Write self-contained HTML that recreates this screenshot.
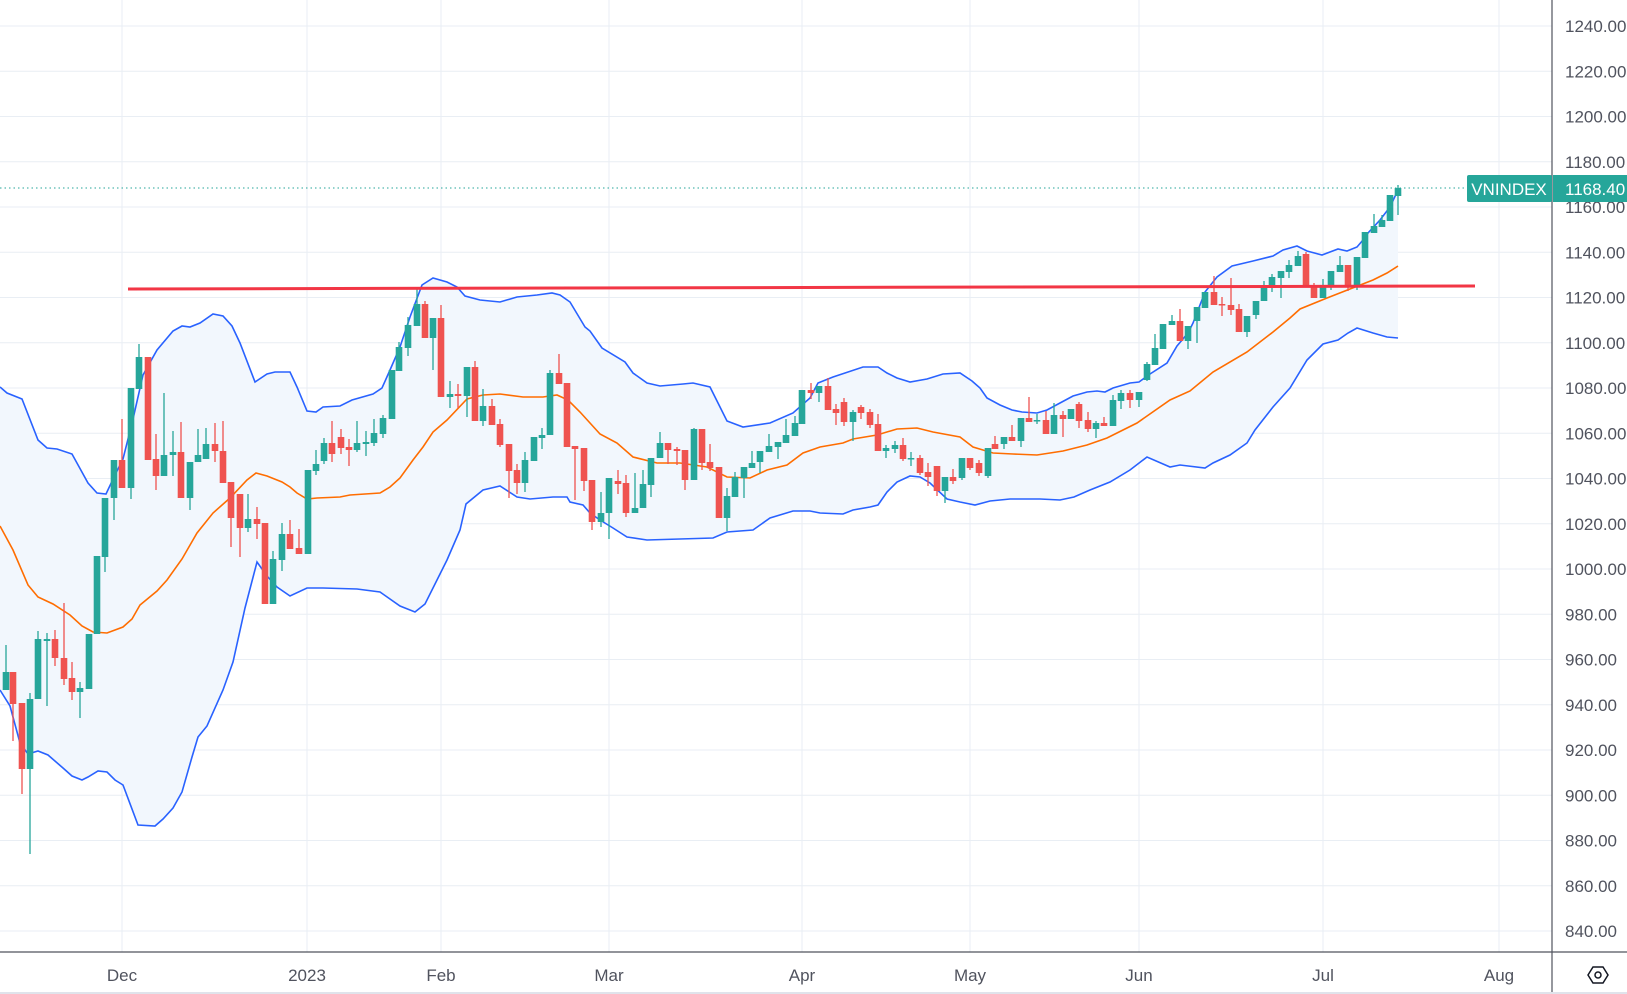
<!DOCTYPE html>
<html><head><meta charset="utf-8"><style>
html,body{margin:0;padding:0;background:#fff;}
svg{display:block;font-family:"Liberation Sans",sans-serif;}
</style></head><body>
<svg id="c" width="1627" height="994" xmlns="http://www.w3.org/2000/svg"></svg>
<script>
const NS="http://www.w3.org/2000/svg";
const svg=document.getElementById('c');
function el(t,a,txt){const e=document.createElementNS(NS,t);for(const k in a)e.setAttribute(k,a[k]);if(txt!=null)e.textContent=txt;svg.appendChild(e);return e;}
const Y=v=>26+(1240-v)*2.2625;
// grid
for(let v=840;v<=1240;v+=20){const y=Y(v);el('line',{x1:0,x2:1552,y1:y,y2:y,stroke:'#e9eef4','stroke-width':1});}
const months=[[122,'Dec'],[307,'2023'],[441,'Feb'],[609,'Mar'],[802,'Apr'],[970,'May'],[1139,'Jun'],[1323,'Jul'],[1499,'Aug']];
months.forEach(m=>el('line',{x1:m[0],x2:m[0],y1:0,y2:952,stroke:'#e9eef4','stroke-width':1}));
const up=[[0,387],[7,393],[22,399],[38,440],[47,448],[57,449],[72,454],[88,483],[97,493],[106,494],[115,475],[123,459],[133,419],[143,375],[157,350],[173,331],[182,326],[190,327],[200,323],[213,314],[223,316],[232,326],[240,343],[255,382],[267,374],[275,372],[290,372],[297,387],[307,411],[316,412],[323,407],[340,406],[352,400],[373,394],[382,388],[390,370],[400,347],[410,317],[422,285],[433,278],[447,282],[457,287],[465,296],[480,300],[500,302],[517,297],[537,295],[552,293],[560,295],[570,302],[585,327],[590,331],[602,348],[625,362],[633,373],[647,383],[660,386],[683,384],[693,383],[710,387],[727,421],[743,427],[770,423],[793,413],[810,398],[818,383],[833,377],[863,367],[878,367],[887,373],[897,378],[910,382],[927,379],[943,374],[960,373],[972,381],[980,388],[987,398],[1000,405],[1012,410],[1022,412],[1037,413],[1047,410],[1060,403],[1073,396],[1087,392],[1097,391],[1105,392],[1113,388],[1130,383],[1139,382],[1150,374],[1167,363],[1177,346],[1188,333],[1193,323],[1205,292],[1217,277],[1232,266],[1253,261],[1273,256],[1283,250],[1297,246],[1307,251],[1322,255],[1338,249],[1347,251],[1357,247],[1363,240],[1368,233],[1380,220],[1390,207],[1398,190]];
const lo=[[0,690],[10,706],[20,743],[28,754],[38,751],[48,755],[63,768],[72,776],[82,780],[88,777],[98,771],[107,772],[115,780],[123,785],[138,825],[155,826],[163,819],[173,808],[182,792],[192,757],[198,737],[207,726],[223,690],[233,662],[245,608],[257,562],[267,576],[277,587],[290,596],[307,588],[323,588],[357,589],[380,592],[400,606],[415,612],[425,604],[447,560],[460,530],[466,504],[483,490],[500,486],[517,497],[530,499],[553,497],[567,497],[570,502],[583,505],[590,513],[600,520],[613,528],[627,537],[647,540],[680,539],[713,538],[727,532],[753,530],[770,518],[793,511],[810,511],[820,513],[843,514],[853,510],[870,507],[878,505],[887,492],[897,482],[910,476],[920,477],[930,483],[947,499],[960,502],[975,505],[990,501],[1010,499],[1040,499],[1060,500],[1074,497],[1090,490],[1110,482],[1130,470],[1147,457],[1170,467],[1180,465],[1205,468],[1213,463],[1230,455],[1247,443],[1255,430],[1273,407],[1290,388],[1307,360],[1323,344],[1338,340],[1348,333],[1357,328],[1373,333],[1387,337],[1398,338]];
const ma=[[0,526],[13,550],[28,585],[38,597],[53,604],[70,615],[82,626],[93,632],[107,633],[115,630],[123,627],[132,619],[140,605],[157,591],[167,580],[182,559],[197,533],[213,513],[230,498],[247,480],[256,473],[267,476],[282,482],[290,487],[297,493],[307,499],[317,498],[340,497],[350,495],[380,493],[390,487],[400,478],[413,460],[423,447],[433,432],[447,420],[467,399],[483,395],[500,394],[523,397],[543,397],[557,395],[568,400],[580,412],[600,434],[617,443],[633,457],[657,463],[680,463],[707,467],[727,477],[750,478],[767,470],[787,465],[803,453],[820,447],[843,443],[853,439],[877,435],[897,429],[917,428],[933,432],[960,437],[973,447],[993,453],[1013,454],[1037,455],[1063,451],[1087,445],[1107,438],[1137,423],[1170,400],[1190,391],[1213,372],[1247,352],[1273,332],[1290,318],[1300,309],[1327,298],[1350,289],[1373,280],[1387,273],[1398,266]];
const P=a=>a.map(p=>p[0]+','+p[1]).join(' ');
el('polygon',{points:P(up)+' '+P(lo.slice().reverse()),fill:'#f2f7fd'});
el('polyline',{points:P(up),fill:'none',stroke:'#2962ff','stroke-width':1.6});
el('polyline',{points:P(lo),fill:'none',stroke:'#2962ff','stroke-width':1.6});
el('polyline',{points:P(ma),fill:'none',stroke:'#ff6d00','stroke-width':1.6});
// dotted price line
el('line',{x1:0,x2:1552,y1:188,y2:188,stroke:'#26a69a','stroke-width':1,'stroke-dasharray':'1.5 3'});
const C=[[6,672,690,645,690,1],[13,672,704,672,741,0],[22,703,769,703,794,0],[30,699,769,693,854,1],[38,639,699,631,699,1],[47,639,641,633,706,1],[55,639,658,630,666,0],[64,658,679,603,685,0],[72,678,692,662,700,0],[80,688,692,682,718,1],[89,634,689,634,689,1],[97,556,634,556,634,1],[105,498,557,498,572,1],[114,460,498,460,520,1],[122,460,488,419,488,0],[131,388,488,388,499,1],[139,357,389,344,389,1],[148,357,460,357,460,0],[156,459,476,434,490,0],[164,455,476,393,476,1],[173,452,455,431,476,1],[181,452,498,422,498,0],[190,462,498,462,510,1],[198,455,462,429,462,1],[206,444,459,428,459,1],[215,444,451,423,462,0],[223,451,483,421,483,0],[231,482,518,482,547,0],[240,494,528,494,557,0],[248,519,528,494,532,1],[257,519,524,507,539,0],[265,523,604,523,604,0],[273,559,604,551,604,1],[282,534,560,523,571,1],[290,534,549,520,549,0],
[299,548,554,529,554,0],[308,470,554,470,554,1],[316,464,471,450,475,1],[324,443,461,438,464,1],[332,443,454,421,462,0],[341,437,448,429,454,0],[349,447,450,439,466,0],[357,443,450,421,452,1],[366,442,444,431,456,1],[374,433,443,419,446,1],[383,418,434,415,438,1],[392,370,419,370,419,1],[399,347,371,342,371,1],[408,325,348,317,356,1],[417,304,326,288,326,1],[425,304,338,301,338,0],[433,318,338,318,370,1],[441,318,397,305,397,0],[450,394,397,381,408,1],[458,394,396,384,408,0],[467,367,396,367,417,1],[475,367,421,361,421,0],[483,406,421,389,426,1],[492,406,425,399,425,0],[500,424,445,419,447,0],[509,444,471,444,498,0],[517,470,483,464,494,0],[525,460,483,452,492,1],[534,437,461,437,461,1],[542,435,438,428,449,1],[550,373,435,370,435,1],[559,373,384,354,384,0],[567,383,447,383,447,0],[575,446,449,446,500,0],[584,448,481,448,491,0],
[592,480,522,480,530,0],[601,513,522,492,527,1],[609,478,513,478,539,1],[618,481,484,470,494,0],[626,483,513,475,517,0],[635,508,513,473,513,1],[643,484,508,470,508,1],[651,458,485,458,497,1],[660,443,458,432,458,1],[668,443,450,443,464,0],[677,449,451,447,465,0],[685,450,480,450,490,0],[694,429,480,428,480,1],[702,429,463,429,470,0],[710,462,468,444,471,0],[719,467,518,467,518,0],[727,496,518,488,531,1],[735,477,497,472,497,1],[744,467,478,467,498,1],[752,463,468,451,468,1],[760,451,462,451,473,1],[769,446,452,434,452,1],[778,442,447,442,459,1],[786,435,443,419,443,1],[795,423,436,416,436,1],[802,390,424,390,424,1],[811,390,393,383,399,0],[819,386,393,386,402,1],[828,386,410,378,410,0],[836,409,413,404,425,0],[844,402,422,398,426,0],[853,412,422,410,441,1],[861,407,413,405,419,0],[870,412,425,409,428,0],[878,424,451,414,451,0],[886,448,451,445,458,1],[895,445,449,441,453,1],[903,445,459,438,461,0],[911,458,459,452,466,1],[920,458,473,455,475,0],[928,472,477,463,486,0],[937,466,491,466,496,0],[945,477,491,477,503,1],[953,477,481,469,484,0],[962,458,478,458,480,1],[970,458,468,458,470,0],[979,463,473,460,476,0],[988,448,476,448,478,1],
[995,444,449,436,449,0],[1004,437,444,437,449,1],[1012,437,441,425,441,0],[1021,418,441,418,447,1],[1029,418,422,397,422,0],[1037,420,421,414,424,1],[1046,420,434,411,434,0],[1054,415,434,403,434,1],[1063,415,419,411,437,0],[1071,409,419,409,419,1],[1079,404,421,402,428,0],[1088,420,429,412,432,0],[1096,423,429,421,438,1],[1104,423,426,417,426,0],[1113,400,426,395,426,1],[1121,393,401,390,409,1],[1130,393,400,390,408,0],[1139,392,400,392,407,1],[1147,364,380,362,381,1],[1155,348,365,334,365,1],[1163,324,349,324,349,1],[1172,321,325,315,325,1],[1180,321,341,309,341,0],[1188,326,341,326,349,1],[1197,307,321,307,343,1],[1205,292,308,292,308,1],[1214,292,305,276,305,0],[1222,304,305,297,316,0],[1231,305,310,278,315,0],[1239,309,332,304,332,0],[1247,316,332,316,337,1],[1256,301,315,301,319,1],[1264,286,301,281,301,1],[1272,277,287,274,292,1],[1281,271,278,271,298,1],[1289,265,272,260,278,1],[1298,256,266,251,266,1],[1306,254,287,252,287,0],[1314,285,298,283,298,0],[1323,285,298,279,298,1],[1331,271,285,271,290,1],[1340,265,272,256,272,1],[1348,265,285,265,291,0],[1357,257,285,257,290,1],[1365,232,258,232,258,1],[1374,226,233,214,233,1],[1382,220,227,215,227,1],[1390,195,221,195,221,1],[1398,188,196,185,215,1]];
C.forEach(c=>{const col=c[5]?'#26a69a':'#ef5350';
 el('line',{x1:c[0],x2:c[0],y1:c[3],y2:c[4],stroke:col,'stroke-width':1.3});
 el('rect',{x:c[0]-3.3,y:c[1],width:6.6,height:Math.max(1.5,c[2]-c[1]),fill:col});});
// red horizontal line
el('line',{x1:128,y1:289,x2:1475,y2:286,stroke:'#f23645','stroke-width':3});
// axes
el('rect',{x:1553,y:0,width:74,height:994,fill:'#fff'});
el('rect',{x:0,y:953,width:1627,height:41,fill:'#fff'});
el('line',{x1:1552,x2:1552,y1:0,y2:994,stroke:'#50535e','stroke-width':1.2});
el('line',{x1:0,x2:1627,y1:952,y2:952,stroke:'#50535e','stroke-width':1.2});
el('line',{x1:0,x2:1627,y1:993,y2:993,stroke:'#e0e3eb','stroke-width':2});
for(let v=840;v<=1240;v+=20){el('text',{x:1565,y:Y(v)+6,'font-size':17,fill:'#50535e'},v.toFixed(2));}
months.forEach(m=>el('text',{x:m[0],y:981,'font-size':17,fill:'#50535e','text-anchor':'middle'},m[1]));
// labels
el('rect',{x:1467,y:175,width:85,height:27,rx:2,fill:'#26a69a'});
el('text',{x:1509,y:195,'font-size':17,fill:'#fff','text-anchor':'middle'},'VNINDEX');
el('rect',{x:1553,y:175,width:74,height:27,fill:'#26a69a'});
el('text',{x:1565,y:195,'font-size':17,fill:'#fff'},'1168.40');
// settings icon
el('polygon',{points:'1588,975 1593,967 1603,967 1608,975 1603,983 1593,983',fill:'none',stroke:'#131722','stroke-width':1.5});
el('circle',{cx:1598,cy:975,r:3,fill:'none',stroke:'#131722','stroke-width':1.5});
</script>
</body></html>
